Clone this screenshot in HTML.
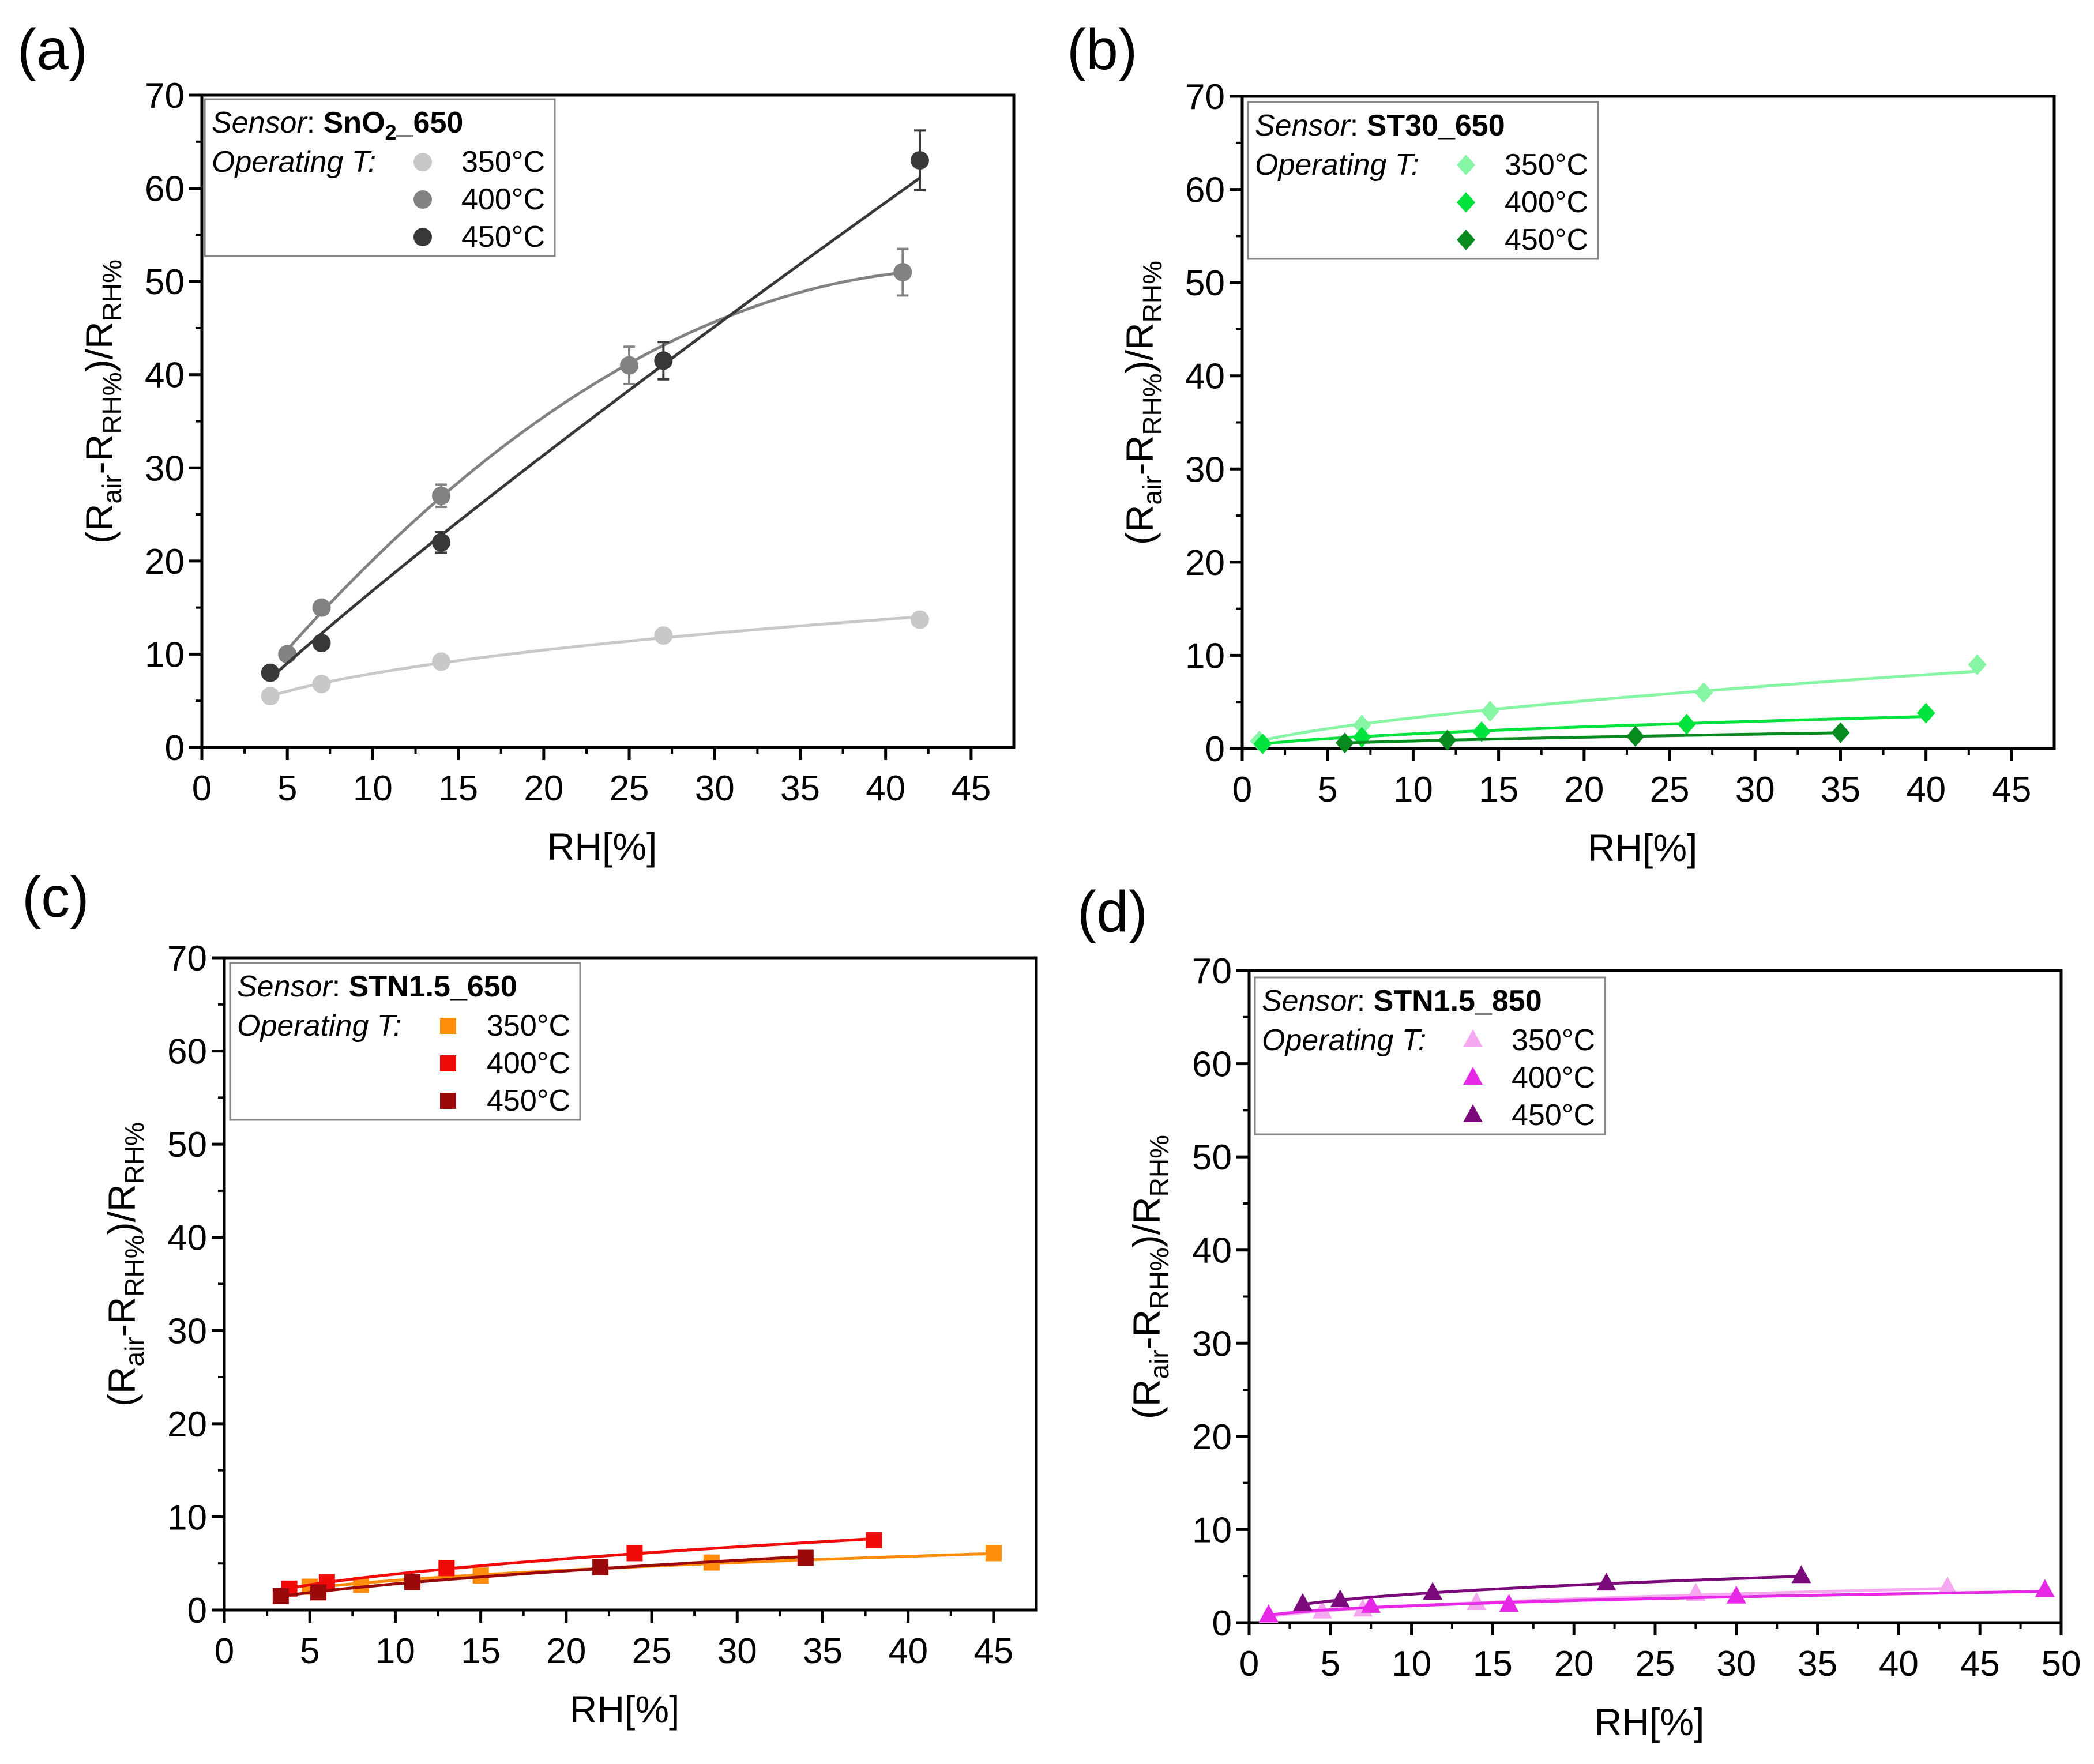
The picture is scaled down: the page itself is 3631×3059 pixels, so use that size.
<!DOCTYPE html>
<html><head><meta charset="utf-8"><style>
html,body{margin:0;padding:0;background:#fff;}
svg{display:block;font-family:"Liberation Sans",sans-serif;}
</style></head><body>
<svg id="fig" width="3631" height="3059" viewBox="0 0 3631 3059" xmlns="http://www.w3.org/2000/svg"></svg>
<script>
// ---- data ----
const tempLabels = ["350°C","400°C","450°C"];
// panel (a) SnO2_650
const aX350 = [4,7,14,27,42], aY350 = [5.5,6.8,9.2,12,13.7], aE350 = [0.4,0.4,0.4,0.5,0.7];
const aX400 = [5,7,14,25,41], aY400 = [10,15,27,41,51], aE400 = [0.5,0.6,1.2,2,2.5];
const aX450 = [4,7,14,27,42], aY450 = [8,11.2,22,41.5,63], aE450 = [0.4,0.6,1.1,2,3.2];
// panel (b) ST30_650
const bX350 = [1,7,14.5,27,43], bY350 = [0.8,2.5,4,6,9];
const bX400 = [1.2,7,14,26,40], bY400 = [0.5,1.2,1.8,2.6,3.8];
const bX450 = [6,12,23,35], bY450 = [0.6,0.9,1.3,1.7];
// panel (c) STN1.5_650
const cX350 = [5,8,15,28.5,45], cY350 = [2.5,2.7,3.7,5.1,6.1];
const cX400 = [3.8,6,13,24,38], cY400 = [2.3,3,4.5,6.1,7.5];
const cX450 = [3.3,5.5,11,22,34], cY450 = [1.5,1.9,3,4.6,5.6];
// panel (d) STN1.5_850
const dX350 = [1.2,4.5,7,14,27.5,43], dY350 = [0.7,1.2,1.4,2.1,3.1,3.8];
const dX400 = [1.2,7.5,16,30,49], dY400 = [0.8,1.8,1.9,2.8,3.5];
const dX450 = [3.3,5.6,11.3,22,34], dY450 = [2,2.4,3.2,4.2,5];
const xTicksA = [0,5,10,15,20,25,30,35,40,45];
const xTicksD = [0,5,10,15,20,25,30,35,40,45,50];
const yTicks = [0,10,20,30,40,50,60,70];

const NS="http://www.w3.org/2000/svg";
const svg=document.getElementById('fig');
function el(tag,attrs,parent){const e=document.createElementNS(NS,tag);for(const k in attrs)e.setAttribute(k,attrs[k]);(parent||svg).appendChild(e);return e;}

function powerFit(xs,ys){let n=xs.length,sx=0,sy=0,sxx=0,sxy=0;for(let i=0;i<n;i++){const lx=Math.log(xs[i]),ly=Math.log(ys[i]);sx+=lx;sy+=ly;sxx+=lx*lx;sxy+=lx*ly;}const b=(n*sxy-sx*sy)/(n*sxx-sx*sx);const a=Math.exp((sy-b*sx)/n);return x=>a*Math.pow(x,b);}
function quadFit(xs,ys){let n=xs.length;let S=[0,0,0,0,0],T=[0,0,0];for(let i=0;i<n;i++){let p=1;for(let k=0;k<5;k++){S[k]+=p;if(k<3)T[k]+=p*ys[i];p*=xs[i];}}
const M=[[S[0],S[1],S[2],T[0]],[S[1],S[2],S[3],T[1]],[S[2],S[3],S[4],T[2]]];
for(let i=0;i<3;i++){for(let j=i+1;j<3;j++){const f=M[j][i]/M[i][i];for(let k=i;k<4;k++)M[j][k]-=f*M[i][k];}}
const c=[0,0,0];for(let i=2;i>=0;i--){let s=M[i][3];for(let k=i+1;k<3;k++)s-=M[i][k]*c[k];c[i]=s/M[i][i];}
return x=>c[0]+c[1]*x+c[2]*x*x;}

function marker(g,shape,cx,cy,color,name){
  let m;
  if(shape==='circle') m=el('circle',{cx:cx,cy:cy,r:16,fill:color},g);
  else if(shape==='diamond') m=el('polygon',{points:`${cx},${cy-18} ${cx+16},${cy} ${cx},${cy+18} ${cx-16},${cy}`,fill:color},g);
  else if(shape==='square') m=el('rect',{x:cx-14,y:cy-14,width:28,height:28,fill:color},g);
  else m=el('polygon',{points:`${cx},${cy-19} ${cx+17},${cy+12} ${cx-17},${cy+12}`,fill:color},g);
  
  
  return m;
}

function panel(cfg){
  const g=el('g',{});
  
  
  const L=cfg.left,T=cfg.top,W=1408,H=1131,B=T+H,R=L+W;
  const X=v=>L+v/cfg.xmax*W, Y=v=>B-v/70*H;
  const lab=el('text',{x:cfg.lx,y:cfg.ly,'font-size':100,fill:'#000'},g);lab.textContent='('+cfg.id+')';
  
  
  const fr=el('rect',{x:L,y:T,width:W,height:H,fill:'none',stroke:'#000','stroke-width':5},g);
  
  
  const xt=cfg.xticks;
  for(let i=0;i<xt.length;i++){
    const v=xt[i];
    el('line',{x1:X(v),y1:B,x2:X(v),y2:B+22,stroke:'#000','stroke-width':5},g);
    if(v+2.5<cfg.xmax) el('line',{x1:X(v+2.5),y1:B,x2:X(v+2.5),y2:B+11,stroke:'#000','stroke-width':4},g);
    const t=el('text',{x:X(v),y:B+92,'font-size':62,'text-anchor':'middle',fill:'#000'},g);t.textContent=v;
    
    
  }
  for(let i=0;i<yTicks.length;i++){
    const v=yTicks[i];
    el('line',{x1:L-22,y1:Y(v),x2:L,y2:Y(v),stroke:'#000','stroke-width':5},g);
    if(v<70) el('line',{x1:L-11,y1:Y(v+5),x2:L,y2:Y(v+5),stroke:'#000','stroke-width':4},g);
    const t=el('text',{x:L-30,y:Y(v)+22,'font-size':62,'text-anchor':'end',fill:'#000'},g);t.textContent=v;
    
    
  }
  const xt2=el('text',{x:L+W*0.5-10,y:B+195,'font-size':66,'text-anchor':'middle',fill:'#000'},g);xt2.textContent='RH[%]';
  
  
  const yt=el('text',{x:0,y:0,'font-size':66,'text-anchor':'middle',fill:'#000',transform:`translate(${L-155},${T+H*0.47}) rotate(-90)`},g);
  
  
  yt.innerHTML='(R<tspan font-size="46" dy="15">air</tspan><tspan dy="-15">-R</tspan><tspan font-size="46" dy="15">RH%</tspan><tspan dy="-15">)/R</tspan><tspan font-size="46" dy="15">RH%</tspan>';
  cfg.series.forEach((s,si)=>{
    const sg=el('g',{},g);
    
    
    const f=s.fit==='quad'?quadFit(s.x,s.y):powerFit(s.x,s.y);
    const x0=Math.min(...s.x),x1=Math.max(...s.x);let pts=[];
    for(let k=0;k<=60;k++){const xv=x0+(x1-x0)*k/60;pts.push(X(xv).toFixed(1)+','+Y(f(xv)).toFixed(1));}
    const ln=el('polyline',{points:pts.join(' '),fill:'none',stroke:s.color,'stroke-width':5},sg);
    
    
    for(let i=0;i<s.x.length;i++){
      if(s.e){const e=s.e[i],cx=X(s.x[i]);
        el('path',{d:`M${cx},${Y(s.y[i]+e)}V${Y(s.y[i]-e)}M${cx-10},${Y(s.y[i]+e)}h20M${cx-10},${Y(s.y[i]-e)}h20`,stroke:s.color,'stroke-width':4,fill:'none'},sg);}
      marker(sg,cfg.shape,X(s.x[i]),Y(s.y[i]),s.color,'data-point');
    }
  });
  const lg=el('g',{},g);
  
  
  const bx=L+cfg.lgdx,by=T+cfg.lgdy;
  el('rect',{x:bx,y:by,width:607,height:272,fill:'#fff',stroke:'#888','stroke-width':3},lg);
  const t1=el('text',{x:bx+12,y:by+58,'font-size':52,fill:'#000'},lg);
  t1.innerHTML='<tspan font-style="italic">Sensor</tspan>: <tspan font-weight="bold">'+cfg.sensor+'</tspan>';
  const t2=el('text',{x:bx+12,y:by+126,'font-size':52,'font-style':'italic',fill:'#000'},lg);t2.textContent='Operating T:';
  cfg.series.forEach((s,si)=>{
    const yy=by+126+si*65;
    marker(lg,cfg.shape,bx+378,yy-17,s.color,'legend-marker');
    const t=el('text',{x:bx+445,y:yy,'font-size':52,fill:'#000'},lg);t.textContent=tempLabels[si];
    
    
  });
}

panel({id:'a',left:350,top:165,xmax:47.5,xticks:xTicksA,lx:30,ly:120,shape:'circle',sensor:'SnO<tspan font-size="36" dy="12">2</tspan><tspan dy="-12">_650</tspan>',lgdx:5,lgdy:7,
  series:[{x:aX350,y:aY350,e:aE350,color:'#c8c8c8'},{x:aX400,y:aY400,e:aE400,color:'#828282',fit:'quad'},{x:aX450,y:aY450,e:aE450,color:'#383838'}]});
panel({id:'b',left:2154,top:167,xmax:47.5,xticks:xTicksA,lx:1850,ly:120,shape:'diamond',sensor:'ST30_650',lgdx:10,lgdy:10,
  series:[{x:bX350,y:bY350,color:'#86f5a4'},{x:bX400,y:bY400,color:'#00e23c'},{x:bX450,y:bY450,color:'#078a1e'}]});
panel({id:'c',left:389,top:1661,xmax:47.5,xticks:xTicksA,lx:38,ly:1590,shape:'square',sensor:'STN1.5_650',lgdx:10,lgdy:9,
  series:[{x:cX350,y:cY350,color:'#ff8c0a'},{x:cX400,y:cY400,color:'#f00a0a'},{x:cX450,y:cY450,color:'#9a0a0a'}]});
panel({id:'d',left:2166,top:1683,xmax:50,xticks:xTicksD,lx:1868,ly:1615,shape:'triangle',sensor:'STN1.5_850',lgdx:10,lgdy:12,
  series:[{x:dX350,y:dY350,color:'#f5a8f0'},{x:dX400,y:dY400,color:'#e628e6'},{x:dX450,y:dY450,color:'#7a0a7a'}]});
</script>
</body></html>
